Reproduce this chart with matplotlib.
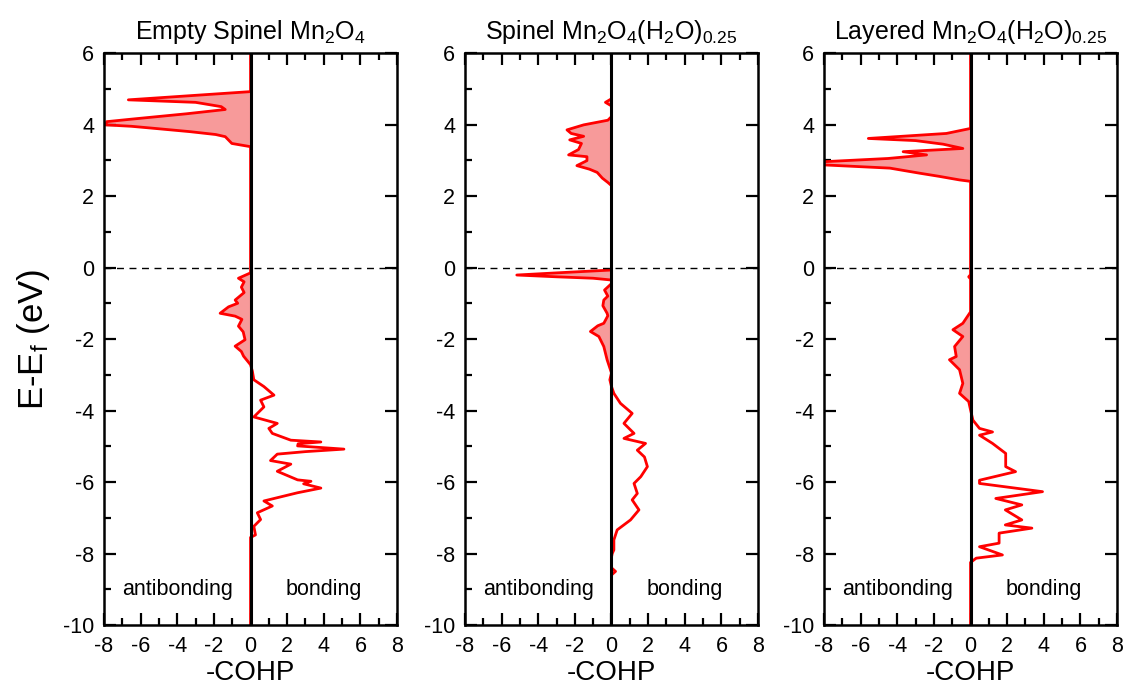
import numpy as np
import matplotlib
matplotlib.use('Agg')
import matplotlib.pyplot as plt

plt.rcParams['font.family'] = ['Liberation Sans', 'DejaVu Sans']
plt.rcParams['mathtext.fontset'] = 'custom'
plt.rcParams['mathtext.rm'] = 'Liberation Sans'
plt.rcParams['mathtext.it'] = 'Liberation Sans'
plt.rcParams['axes.unicode_minus'] = False

titles = ['Empty Spinel Mn$_2$O$_4$',
          'Spinel Mn$_2$O$_4$(H$_2$O)$_{0.25}$',
          'Layered Mn$_2$O$_4$(H$_2$O)$_{0.25}$']

# 空尖晶石
e1 = [6, 4.92, 4.69, 4.62, 4.50, 4.42, 4.30, 4.15, 4.08, 3.99, 3.95, 3.89, 3.80, 3.72, 3.66, 3.47, 3.38,
      -0.15, -0.3, -0.4, -0.55, -0.7, -0.91, -1.0, -1.1, -1.28, -1.36, -1.45, -1.64, -1.8, -2.02, -2.2, -2.35, -2.48, -2.72,
      -2.9, -3.14, -3.33, -3.57, -3.71, -3.9, -4.18, -4.36, -4.5, -4.64, -4.83, -4.88, -4.93, -4.99, -5.08, -5.15, -5.22,
      -5.4, -5.5, -5.7, -5.94, -5.98, -6.05, -6.17, -6.3, -6.53, -6.67, -6.86, -7.05, -7.24, -7.48, -7.55, -10]
c1 = [0, 0, -6.67, -3.0, -1.6, -1.38, -3.5, -6.5, -7.85, -7.9, -6.5, -5.2, -3.3, -1.9, -1.38, -1.02, 0,
      0, -0.66, -0.35, -0.5, -0.35, -0.84, -0.7, -1.2, -1.66, -0.84, -0.47, -0.66, -0.4, -0.3, -0.84, -0.5, -0.38, 0,
      0.1, 0.18, 0.73, 1.28, 0.55, 0.73, 0.18, 1.46, 1.0, 1.19, 2.2, 3.84, 2.6, 2.57, 5.1, 3.0, 1.46,
      1.09, 2.2, 1.46, 2.57, 3.3, 2.9, 3.84, 2.57, 0.73, 1.19, 0.37, 0.55, 0.18, 0.27, 0, 0]

# 尖晶石 + 水
e2 = [6, 4.72, 4.62, 4.52, 4.22, 4.12, 3.99, 3.85, 3.75, 3.67, 3.57, 3.47, 3.3, 3.15, 3.10, 2.99, 2.85, 2.75, 2.66, 2.5, 2.38, 2.29,
      -0.07, -0.15, -0.21, -0.26, -0.3, -0.35, -0.45, -0.63, -0.8, -0.91, -1.07, -1.28, -1.35, -1.56, -1.63, -1.79, -1.93,
      -2.21, -2.58, -2.95, -3.14, -3.33,
      -3.52, -3.8, -4.08, -4.36, -4.64, -4.78, -4.92, -5.11, -5.3, -5.57, -5.85, -6.04, -6.32, -6.5, -6.78, -7.06, -7.34,
      -7.62, -7.9, -8.0, -8.1, -8.4, -8.5, -8.6, -10]
c2 = [0, 0, -0.33, 0, 0, -0.2, -1.52, -2.43, -2.2, -1.52, -2.28, -1.64, -1.8, -2.34, -1.34, -1.34, -1.89, -1.2, -0.78, -0.5, -0.2, 0,
      0, -3.0, -5.17, -3.0, -1.0, 0, 0, -0.38, -0.2, -0.42, -0.47, -0.24, -0.2, -0.42, -0.75, -1.15, -0.69,
      -0.42, -0.24, 0, -0.09, 0,
      0.13, 0.49, 1.13, 0.68, 1.23, 0.68, 1.86, 1.41, 1.8, 1.96, 1.6, 1.23, 1.41, 1.13, 1.5, 1.04, 0.31,
      0.13, 0.13, 0.04, 0, 0, 0.22, 0, 0]

# 层状 + 水
e3 = [6, 3.89, 3.75, 3.61, 3.55, 3.45, 3.33, 3.24, 3.15, 3.05, 2.96, 2.87, 2.78, 2.64, 2.55, 2.45, 2.41,
      -0.2, -0.26, -0.32, -1.24, -1.56, -1.74, -1.93, -2.21, -2.49, -2.58, -2.86, -3.24, -3.52, -3.75, -3.98,
      -4.27, -4.5, -4.6, -4.69, -4.92, -5.2, -5.57, -5.71, -5.95, -6.04, -6.27, -6.46, -6.64, -6.78, -7.06, -7.2,
      -7.29, -7.43, -7.71, -7.81, -8.04, -8.13, -8.2, -8.25, -10]
c3 = [0, 0, -1.32, -5.58, -3.0, -1.5, -0.42, -3.68, -2.4, -4.5, -8.0, -8.0, -4.4, -2.8, -1.71, -0.6, 0,
      0, -0.1, 0, 0, -0.42, -0.96, -0.42, -0.87, -0.78, -1.15, -0.6, -0.42, -0.6, -0.1, 0,
      0.13, 0.49, 1.2, 0.49, 1.2, 1.92, 1.92, 2.46, 0.49, 0.49, 3.93, 1.38, 2.8, 1.9, 2.8, 1.9,
      3.35, 1.56, 1.56, 0.49, 1.74, 0.31, 0.13, 0, 0]

data = [(e1, c1), (e2, c2), (e3, c3)]
lefts = [0.0922, 0.4122, 0.7305]

fig = plt.figure(figsize=(11.28, 6.93), dpi=100)

for i, (e, c) in enumerate(data):
    ax = fig.add_axes([lefts[i], 0.0981, 0.2598, 0.8254])
    e = np.array(e)
    c = np.array(c)
    ax.fill_betweenx(e, c, 0, where=c < 0, interpolate=True, color='#f79a9a', lw=0)
    ax.plot(c, e, color='red', lw=2)
    ax.axvline(0, color='black', lw=2.2, zorder=5)
    ax.axhline(0, color='black', lw=1, ls=(0, (5, 4)))
    ax.set_xlim(-8, 8)
    ax.set_ylim(-10, 6)
    ax.set_xticks(range(-8, 9, 2))
    ax.set_xticks(range(-7, 8, 2), minor=True)
    ax.set_yticks(range(-10, 7, 2))
    ax.set_yticks(range(-9, 6, 2), minor=True)
    ax.tick_params(which='both', direction='in', top=True, right=True, width=1.6, labelsize=15.5)
    ax.tick_params(which='major', length=8.5)
    ax.tick_params(which='minor', length=5, right=False)
    ax.tick_params(axis='x', pad=8)
    ax.tick_params(axis='y', pad=7)
    for s in ax.spines.values():
        s.set_linewidth(1.8)
    ax.text(-4, -9, 'antibonding', ha='center', va='center', fontsize=15.5)
    ax.text(4, -9, 'bonding', ha='center', va='center', fontsize=15.5)
    ax.set_xlabel('-COHP', fontsize=20, labelpad=2)
    ax.set_title(titles[i], fontsize=18, pad=10)
    if i == 0:
        ax.set_ylabel('E-E$_\\mathrm{f}$ (eV)', fontsize=25, labelpad=8)

plt.savefig('out.png', dpi=100)
